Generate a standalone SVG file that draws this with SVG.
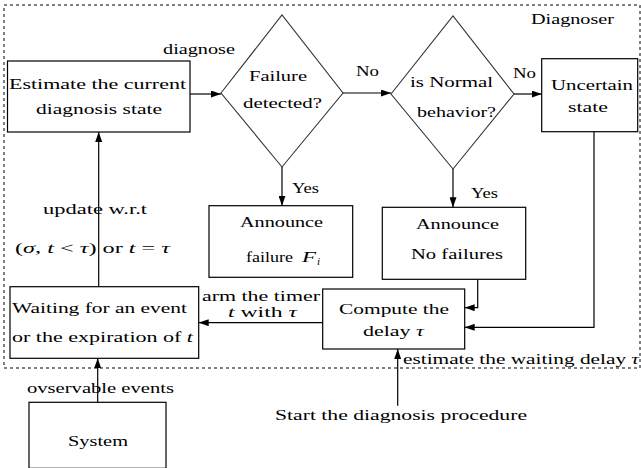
<svg xmlns="http://www.w3.org/2000/svg" width="641" height="468" viewBox="0 0 641 468">
<style>
.t{font-family:'Liberation Serif','Times New Roman',serif;font-size:15.5px;fill:#000}
.s{font-size:14px}
.m{font-style:italic}
.box{fill:#fff;stroke:#000;stroke-width:1.2}
.dia{fill:#fff;stroke:#333;stroke-width:1.1}
.ln{fill:none;stroke:#000;stroke-width:1.2}
</style>
<defs>
<marker id="ah" markerUnits="userSpaceOnUse" markerWidth="10" markerHeight="7" refX="10" refY="3.5" orient="auto">
<path d="M0,0 L10,3.5 L0,7 z" fill="#000"/>
</marker>
</defs>
<rect width="641" height="468" fill="#fff"/>
<g id="diagnoser">
<rect x="4" y="5" width="636" height="363" fill="none" stroke="#000" stroke-width="1" stroke-dasharray="3,3"/>
<text class="t" x="531" y="24" textLength="83" lengthAdjust="spacingAndGlyphs">Diagnoser</text>
</g>
<g id="estimate">
<rect class="box" x="7.5" y="61" width="182.5" height="71"/>
<text class="t" x="9" y="89" textLength="177" lengthAdjust="spacingAndGlyphs">Estimate the current</text>
<text class="t" x="36" y="114" textLength="126" lengthAdjust="spacingAndGlyphs">diagnosis state</text>
</g>
<g id="failure-detected">
<polygon class="dia" points="221,93 282,15 343,93 282,167"/>
<text class="t" x="249" y="81" textLength="58" lengthAdjust="spacingAndGlyphs">Failure</text>
<text class="t" x="243" y="108" textLength="79" lengthAdjust="spacingAndGlyphs">detected?</text>
</g>
<g id="normal-behavior">
<polygon class="dia" points="391,94 453,16 514,94 453,169"/>
<text class="t" x="410" y="87" textLength="83" lengthAdjust="spacingAndGlyphs">is Normal</text>
<text class="t" x="417" y="117" textLength="79" lengthAdjust="spacingAndGlyphs">behavior?</text>
</g>
<g id="uncertain">
<rect class="box" x="541.7" y="58.7" width="96" height="73"/>
<text class="t" x="551" y="90" textLength="82" lengthAdjust="spacingAndGlyphs">Uncertain</text>
<text class="t" x="568" y="112" textLength="40" lengthAdjust="spacingAndGlyphs">state</text>
</g>
<g id="announce-failure">
<rect class="box" x="209" y="205.7" width="143.7" height="71.6"/>
<text class="t" x="240" y="227" textLength="83" lengthAdjust="spacingAndGlyphs">Announce</text>
<text class="t" x="246" y="262" textLength="47" lengthAdjust="spacingAndGlyphs">failure</text>
<text class="t m" x="302" y="262" textLength="14" lengthAdjust="spacingAndGlyphs">F</text>
<text class="t m" x="317" y="265" style="font-size:11px">i</text>
</g>
<g id="announce-no-failures">
<rect class="box" x="382.3" y="207.3" width="143.4" height="72"/>
<text class="t" x="416" y="229" textLength="83" lengthAdjust="spacingAndGlyphs">Announce</text>
<text class="t" x="411" y="259" textLength="92" lengthAdjust="spacingAndGlyphs">No failures</text>
</g>
<g id="compute-delay">
<rect class="box" x="322.7" y="289" width="142" height="60"/>
<text class="t" x="339" y="314" textLength="110" lengthAdjust="spacingAndGlyphs">Compute the</text>
<text class="t" x="363" y="336" textLength="61" lengthAdjust="spacingAndGlyphs">delay <tspan class="m">τ</tspan></text>
</g>
<g id="waiting">
<rect class="box" x="10" y="286.7" width="188.7" height="71.6"/>
<text class="t" x="12" y="313" textLength="175" lengthAdjust="spacingAndGlyphs">Waiting for an event</text>
<text class="t" x="12" y="342" textLength="181" lengthAdjust="spacingAndGlyphs">or the expiration of <tspan class="m">t</tspan></text>
</g>
<g id="system">
<rect class="box" x="29" y="402.3" width="137" height="66"/>
<text class="t" x="68" y="446" textLength="60" lengthAdjust="spacingAndGlyphs">System</text>
</g>
<g id="connectors">
<line class="ln" x1="190" y1="94" x2="221" y2="94" marker-end="url(#ah)"/>
<line class="ln" x1="343" y1="93" x2="391" y2="93" marker-end="url(#ah)"/>
<line class="ln" x1="514" y1="94" x2="541.7" y2="94" marker-end="url(#ah)"/>
<line class="ln" x1="282" y1="167" x2="282" y2="205.7" marker-end="url(#ah)"/>
<line class="ln" x1="453" y1="169" x2="453" y2="207.3" marker-end="url(#ah)"/>
<polyline class="ln" points="594,131.7 594,327.3 464.7,327.3" marker-end="url(#ah)"/>
<polyline class="ln" points="477.7,279.3 477.7,307.7 464.7,307.7" marker-end="url(#ah)"/>
<line class="ln" x1="322.7" y1="322.7" x2="198.7" y2="322.7" marker-end="url(#ah)"/>
<line class="ln" x1="98.7" y1="286.7" x2="98.7" y2="132" marker-end="url(#ah)"/>
<line class="ln" x1="97.7" y1="402.3" x2="97.7" y2="358.3" marker-end="url(#ah)"/>
<line class="ln" x1="397.7" y1="405.7" x2="397.7" y2="349" marker-end="url(#ah)"/>
</g>
<g id="labels">
<text class="t" x="163" y="54" textLength="72" lengthAdjust="spacingAndGlyphs">diagnose</text>
<text class="t" x="356" y="76" textLength="23" lengthAdjust="spacingAndGlyphs">No</text>
<text class="t" x="513" y="78" textLength="23" lengthAdjust="spacingAndGlyphs">No</text>
<text class="t" x="292" y="193" textLength="27" lengthAdjust="spacingAndGlyphs">Yes</text>
<text class="t" x="471" y="198" textLength="27" lengthAdjust="spacingAndGlyphs">Yes</text>
<text class="t" x="43" y="214" textLength="104" lengthAdjust="spacingAndGlyphs">update w.r.t</text>
<text class="t" x="15" y="253" textLength="155" lengthAdjust="spacingAndGlyphs">(<tspan class="m">σ</tspan>, <tspan class="m">t</tspan> &lt; <tspan class="m">τ</tspan>) or <tspan class="m">t</tspan> = <tspan class="m">τ</tspan></text>
<text class="t s" x="202" y="300.5" textLength="118" lengthAdjust="spacingAndGlyphs">arm the timer</text>
<text class="t s" x="228" y="317" textLength="69" lengthAdjust="spacingAndGlyphs"><tspan class="m">t</tspan> with <tspan class="m">τ</tspan></text>
<text class="t" x="403" y="364" textLength="236" lengthAdjust="spacingAndGlyphs">estimate the waiting delay <tspan class="m">τ</tspan></text>
<text class="t" x="27" y="393" textLength="147" lengthAdjust="spacingAndGlyphs">ovservable events</text>
<text class="t" x="275" y="420" textLength="252" lengthAdjust="spacingAndGlyphs">Start the diagnosis procedure</text>
</g>
</svg>
